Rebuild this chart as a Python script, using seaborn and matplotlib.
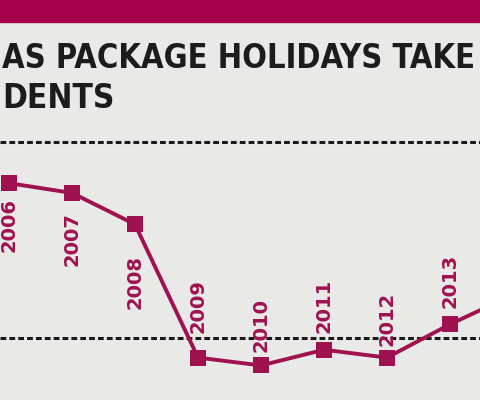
import matplotlib
matplotlib.use("Agg")
import matplotlib.pyplot as plt
from matplotlib import font_manager
from matplotlib.font_manager import FontProperties
import seaborn as sns
import pandas as pd

# ---- data ----
years = [2006, 2007, 2008, 2009, 2010, 2011, 2012, 2013, 2014]
values = [179, 174, 158, 90, 86, 94, 90, 107, 122]
year_labels = ["2006", "2007", "2008", "2009", "2010", "2011", "2012", "2013"]
grid_values = [200, 100]
title_lines = ["AS PACKAGE HOLIDAYS TAKE", "DENTS"]

# ---- styling ----
label_offsets_px = [-42, -46, -58, 52, 40, 44, 39, 43]  # +up / -down, pixels
BG = "#e9e9e7"
MAGENTA = "#a5004b"
LINE = "#a0124f"

sns.set_theme(style="white")
plt.rcParams["font.family"] = ["DejaVu Sans"]

fig = plt.figure(figsize=(4.8, 4.0), dpi=100, facecolor=BG)
ax = fig.add_axes([0, 0, 1, 1])
ax.set_facecolor(BG)

df = pd.DataFrame({"year": years, "value": values})
sns.lineplot(data=df, x="year", y="value", ax=ax, color=LINE, lw=2.8,
             marker="s", markersize=11, markeredgewidth=0,
             markerfacecolor=LINE, zorder=3)

for g in grid_values:
    ax.axhline(g, color="#1a1a1a", lw=2.2, linestyle=(0, (1.9, 1.0)), zorder=2)

px_per_year = 63.0
x0 = 2006 - 9.0 / px_per_year
ax.set_xlim(x0, x0 + 480.0 / px_per_year)
px_per_unit = 1.96
ymid_px = 338.0
ax.set_ylim(100 - (400 - ymid_px) / px_per_unit, 100 + ymid_px / px_per_unit)
ax.set_axis_off()

for yr, val, lab, off in zip(years, values, year_labels, label_offsets_px):
    ax.annotate(lab, (yr, val), xytext=(0, off), textcoords="offset pixels",
                rotation=90, ha="center", va="center", fontsize=14,
                fontweight="heavy", color=LINE, zorder=4)

# top band
fig.patches.append(plt.Rectangle((0, 1 - 22 / 400), 1, 22 / 400,
                                 transform=fig.transFigure, color=MAGENTA,
                                 zorder=5))


# title font: a condensed bold face if one is installed, else Roboto bold
def _is_bold(f):
    w = f.weight
    if isinstance(w, str):
        return w in ("bold", "heavy", "black", "extra bold", "semibold", "demibold")
    return w >= 600


def _is_cond(f):
    s = f.stretch
    if isinstance(s, str):
        return "condensed" in s or "narrow" in s
    return s < 100


ttf = font_manager.fontManager.ttflist
cond = [f for f in ttf if (_is_cond(f) or "Narrow" in f.name or "Condensed" in f.name)
        and "CJK" not in f.name]
cond_bold = [f for f in cond if _is_bold(f)]
if cond_bold:
    tprop = FontProperties(fname=cond_bold[0].fname)
elif cond:
    tprop = FontProperties(fname=cond[0].fname, weight="bold")
else:
    tprop = FontProperties(family="Roboto", weight="bold")

renderer = fig.canvas.get_renderer()
targets = [(title_lines[0], 68, 473), (title_lines[1], 108, 112)]
for txt, base_px, width_px in targets:
    t = fig.text(2 / 480, 1 - base_px / 400, txt, fontproperties=tprop,
                 color="#1c1c1c", va="baseline", ha="left")
    t.set_fontsize(30)
    w = t.get_window_extent(renderer).width
    t.set_fontsize(30 * width_px / w)

fig.savefig("out.png", dpi=100, facecolor=BG)
